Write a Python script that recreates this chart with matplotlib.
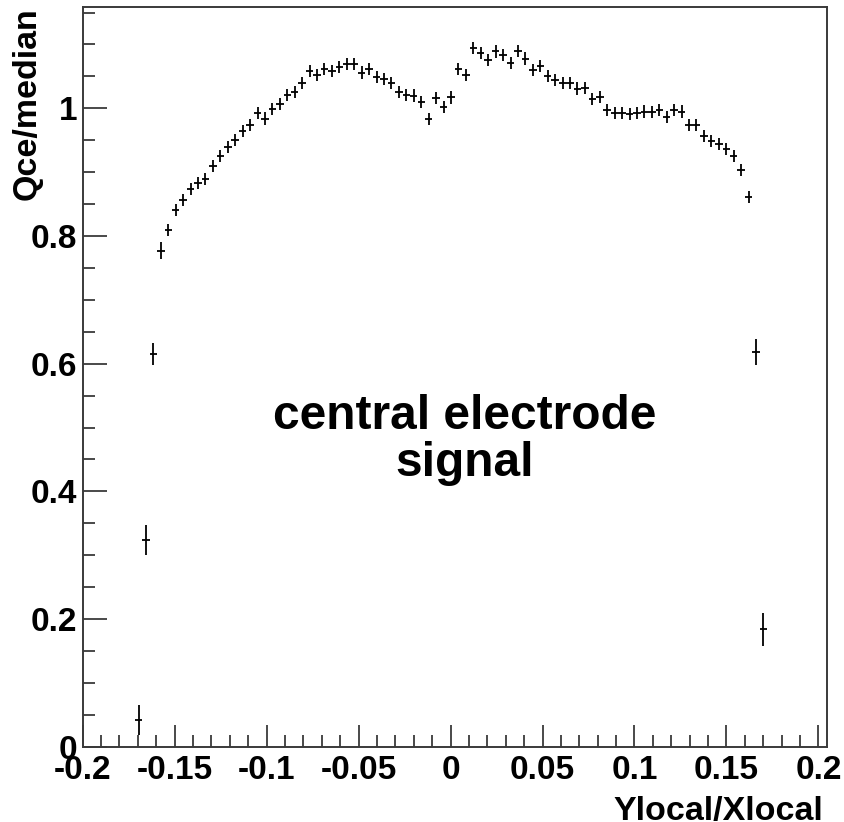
import numpy as np
import matplotlib
matplotlib.use("Agg")
import matplotlib.pyplot as plt
from matplotlib.ticker import MultipleLocator, FixedLocator

# bin centres (Ylocal/Xlocal), 100 bins over [-0.2, 0.2045], bins 7..91 filled
x_centers = [-0.16966, -0.16562, -0.16157, -0.15753, -0.15348, -0.14944, -0.14539, -0.14135,
             -0.13730, -0.13326, -0.12921, -0.12517, -0.12112, -0.11708, -0.11303, -0.10899,
             -0.10494, -0.10090, -0.09685, -0.09281, -0.08876, -0.08472, -0.08067, -0.07663,
             -0.07258, -0.06854, -0.06449, -0.06045, -0.05640, -0.05236, -0.04831, -0.04427,
             -0.04022, -0.03618, -0.03213, -0.02809, -0.02404, -0.02000, -0.01595, -0.01191,
             -0.00786, -0.00382, 0.00023, 0.00427, 0.00832, 0.01236, 0.01641, 0.02045,
             0.02450, 0.02854, 0.03259, 0.03663, 0.04068, 0.04472, 0.04877, 0.05281,
             0.05686, 0.06090, 0.06495, 0.06899, 0.07304, 0.07708, 0.08113, 0.08517,
             0.08922, 0.09326, 0.09731, 0.10135, 0.10540, 0.10944, 0.11349, 0.11753,
             0.12158, 0.12562, 0.12967, 0.13371, 0.13776, 0.14180, 0.14585, 0.14989,
             0.15394, 0.15798, 0.16203, 0.16607, 0.17012]

# Qce/median values
q_values = [0.042, 0.324, 0.615, 0.777, 0.809, 0.841, 0.857, 0.874, 0.883, 0.889,
            0.909, 0.925, 0.940, 0.951, 0.965, 0.974, 0.992, 0.984, 0.999, 1.007,
            1.021, 1.026, 1.040, 1.058, 1.052, 1.062, 1.059, 1.065, 1.069, 1.069,
            1.056, 1.061, 1.049, 1.046, 1.039, 1.026, 1.021, 1.020, 1.010, 0.983,
            1.016, 1.002, 1.017, 1.061, 1.052, 1.094, 1.086, 1.075, 1.089, 1.084,
            1.071, 1.090, 1.078, 1.060, 1.066, 1.051, 1.044, 1.039, 1.039, 1.031,
            1.032, 1.014, 1.018, 0.998, 0.993, 0.993, 0.991, 0.993, 0.995, 0.994,
            0.998, 0.986, 0.997, 0.995, 0.974, 0.974, 0.957, 0.949, 0.944, 0.936,
            0.925, 0.903, 0.861, 0.618, 0.184]

# vertical errors
q_errors = [0.023, 0.023, 0.017, 0.013] + [0.0095] * 79 + [0.02, 0.026]

bin_half_width = 0.0020225

x_ticks = [-0.2, -0.15, -0.1, -0.05, 0, 0.05, 0.1, 0.15, 0.2]
x_tick_labels = ["-0.2", "-0.15", "-0.1", "-0.05", "0", "0.05", "0.1", "0.15", "0.2"]
y_ticks = [0, 0.2, 0.4, 0.6, 0.8, 1.0]
y_tick_labels = ["0", "0.2", "0.4", "0.6", "0.8", "1"]

plt.rcParams['font.family'] = ['Liberation Sans', 'DejaVu Sans']
plt.rcParams['font.weight'] = 'bold'

fig = plt.figure(figsize=(8.44, 8.22), dpi=100)
ax = fig.add_axes([82.7 / 844, 75.3 / 822, 744 / 844, 739.7 / 822])

ax.errorbar(x_centers, q_values, yerr=q_errors, xerr=bin_half_width,
            fmt='none', ecolor='black', elinewidth=1.3, capsize=0)

ax.set_xlim(-0.2, 0.2045)
ax.set_ylim(0, 1.1587)

frame_color = '#3a3a3a'
for side in ['left', 'bottom', 'right', 'top']:
    ax.spines[side].set_color(frame_color)
    ax.spines[side].set_linewidth(1.4)

ax.xaxis.set_major_locator(FixedLocator(x_ticks))
ax.set_xticklabels(x_tick_labels)
ax.xaxis.set_minor_locator(MultipleLocator(0.01))
ax.yaxis.set_major_locator(FixedLocator(y_ticks))
ax.set_yticklabels(y_tick_labels)
ax.yaxis.set_minor_locator(MultipleLocator(0.05))

ax.tick_params(axis='both', which='both', direction='in', color=frame_color,
               width=1.3, top=False, right=False)
ax.tick_params(axis='x', which='major', length=16, labelsize=24, pad=6)
ax.tick_params(axis='x', which='minor', length=8.6)
ax.tick_params(axis='y', which='major', length=17, labelsize=24, pad=4)
ax.tick_params(axis='y', which='minor', length=8.6)
for lab in ax.get_xticklabels() + ax.get_yticklabels():
    lab.set_fontweight('bold')

ax.set_xlabel("Ylocal/Xlocal", fontsize=24.5, fontweight='bold', loc='right')
ax.xaxis.set_label_coords(0.995, -0.066)
ax.set_ylabel("Qce/median", fontsize=24.5, fontweight='bold', loc='top')
ax.yaxis.set_label_coords(-0.054, 1.0)

ax.text(0.0079, 0.48, "central electrode\nsignal", fontsize=34.5, fontweight='bold',
        ha='center', va='center', multialignment='center', linespacing=1.05)

fig.savefig("out.png", dpi=100)
